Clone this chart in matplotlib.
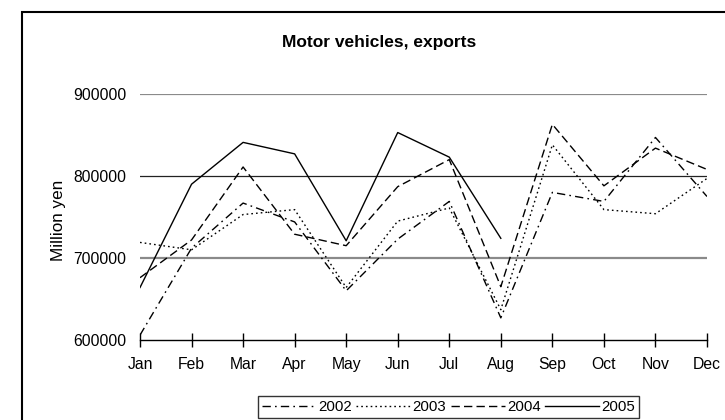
import matplotlib
matplotlib.use("Agg")
import matplotlib.pyplot as plt
from matplotlib.patches import Rectangle
import numpy as np

months = ["Jan", "Feb", "Mar", "Apr", "May", "Jun", "Jul", "Aug", "Sep", "Oct", "Nov", "Dec"]
y2002 = [606000, 712000, 767000, 744000, 660000, 723000, 769000, 627000, 780000, 769000, 847000, 775000]
y2003 = [719000, 710000, 753000, 759000, 664000, 745000, 761000, 637000, 838000, 759000, 754000, 797000]
y2004 = [676000, 722000, 811000, 729000, 715000, 787000, 820000, 665000, 863000, 788000, 834000, 808000]
y2005 = [664000, 790000, 841000, 827000, 721000, 853000, 823000, 724000]
years = ["2002", "2003", "2004", "2005"]
yticks = [600000, 700000, 800000, 900000]

plt.rcParams['font.family'] = ['Liberation Sans', 'DejaVu Sans']
FS_TICK = 11.3
FS_TITLE = 12.5
FS_YLAB = 12.3
FS_LEG = 10.8

W, H = 725, 420
fig = plt.figure(figsize=(W / 100, H / 100), dpi=100)
ax = fig.add_axes([140 / W, 1 - 340 / H, (707 - 140) / W, (340 - 94) / H])

x = np.arange(len(months))
styles = [(0, (6, 3, 1.2, 3)), (0, (1.2, 2.2)), (0, (6, 3)), '-']
series = [y2002, y2003, y2004, y2005]
for vals, ls, lab in zip(series, styles, years):
    ax.plot(x[:len(vals)], vals, color='black', lw=1.0, linestyle=ls, label=lab)

ax.set_xlim(0, len(months) - 1)
ax.set_ylim(yticks[0], yticks[-1])
ax.set_xticks(x)
ax.set_xticklabels(months, fontsize=FS_TICK)
ax.set_yticks(yticks)
ax.set_yticklabels([str(v) for v in yticks], fontsize=FS_TICK)

for v in yticks[1:]:
    if v == 800000:
        ax.axhline(v, color='#222222', lw=0.9, zorder=0)
    else:
        ax.axhline(v, color='#8a8a8a', lw=1.6, zorder=0)

for s in ['top', 'left', 'right']:
    ax.spines[s].set_visible(False)
ax.spines['bottom'].set_linewidth(1.0)
ax.tick_params(axis='y', length=0, pad=10)
ax.tick_params(axis='x', direction='inout', length=10, width=1.0, pad=7.5)

fig.text(379.5 / W, 1 - 43 / H, "Motor vehicles, exports", ha='center', va='center',
         fontsize=FS_TITLE, fontweight='bold')
fig.text(59 / W, 1 - 220 / H, "Million yen", rotation=90, ha='center', va='center', fontsize=FS_YLAB)

fig.patches.append(Rectangle((22 / W, -0.2), 1.2, 1 - 12 / H + 0.2, transform=fig.transFigure,
                             fill=False, ec='black', lw=1.5))

leg = fig.legend(loc='upper left', bbox_to_anchor=(258 / W, 1 - 396 / H), ncol=4, fontsize=FS_LEG,
                 frameon=True, fancybox=False, edgecolor='black', handlelength=3.6,
                 handletextpad=0.15, columnspacing=0.3, borderpad=0.25, borderaxespad=0)
leg.get_frame().set_linewidth(1.0)

fig.savefig("out.png", dpi=100)
